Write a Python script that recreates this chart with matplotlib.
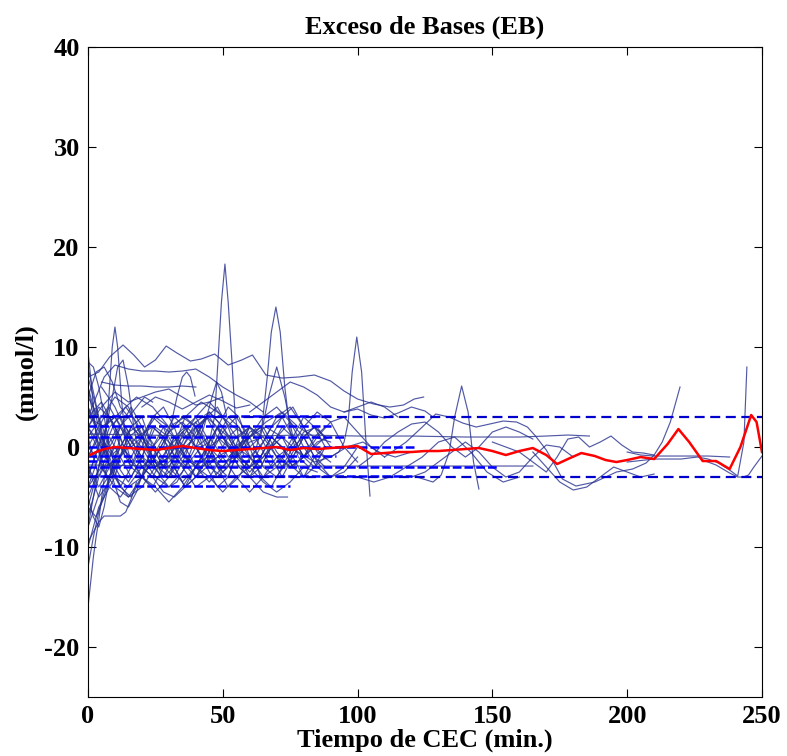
import matplotlib as mpl
mpl.use('Agg')
import matplotlib.pyplot as plt

# media (linea roja)
mean_t = [0, 3, 6, 10, 15, 20, 25, 30, 35, 40, 45, 50, 55, 60, 65, 70, 75, 80, 85, 90,
          95, 100, 105, 110, 115, 120, 125, 130, 135, 140, 145, 150, 155, 160, 165, 170,
          174, 178, 183, 188, 192, 196, 200, 205, 210, 215, 219, 223, 228, 233, 238, 242,
          246, 248, 250]
mean_eb = [-0.9, -0.5, -0.2, 0.0, -0.1, -0.2, -0.3, -0.1, 0.1, -0.1, -0.3, -0.4, -0.3, -0.2,
           -0.1, 0.0, -0.3, -0.1, -0.2, -0.1, 0.0, 0.1, -0.7, -0.6, -0.5, -0.5, -0.4, -0.4,
           -0.3, -0.2, -0.1, -0.4, -0.8, -0.4, -0.1, -0.8, -1.7, -1.2, -0.6, -0.9, -1.3, -1.5,
           -1.3, -1.0, -1.2, 0.3, 1.8, 0.5, -1.4, -1.4, -2.2, 0.0, 3.2, 2.5, -0.5]

# limites normales
lim_sup = 3
lim_inf = -3

# niveles por paciente (azul discontinuo) y hasta donde llegan
level_eb = [3.1, 2.1, 1.0, 0.0, -0.9, -1.4, -2.0, -2.9, -3.9]
level_end = [90, 90, 95, 122, 92, 80, 152, 120, 75]

# picos
peak_curves = [
    ([4, 6, 7.5, 9, 10, 11, 12.5, 14, 16], [-1, 0.5, 4, 10, 12, 10, 4.5, 0.5, -1.5]),
    ([6, 9, 11, 13, 15, 17, 19, 22], [1, 5, 8, 8.7, 6, 2, -1, -2]),
    ([43, 45, 47, 48.3, 49.5, 50.8, 52, 53.3, 54.5, 56, 58],
     [-1, 0.5, 3.1, 9, 14.5, 18.3, 14.5, 9, 3.5, 0.5, -1]),
    ([58, 62, 64.5, 66.5, 68, 69.7, 71.3, 73, 75, 78, 82],
     [-2, -0.5, 2, 7, 11.5, 14, 11.5, 6, 1.5, -1, -2]),
    ([60, 64, 67, 70, 73, 76, 80], [0, 1, 5, 8, 5, 1, -1]),
    ([90, 93, 95, 96.5, 98, 99.7, 101.5, 103, 104.6], [-1, -0.5, 0.5, 2.5, 7.5, 11, 7.5, 1, -4.9]),
    ([28, 31, 33, 35, 36.6, 38, 39.7], [0, 2.5, 5, 7, 7.5, 7, 5.1]),
    ([40, 43, 46, 47.7, 49.5, 51.5], [0, 2, 5, 6.5, 5.5, 3]),
    ([122, 128, 131, 134, 136, 138.6, 141, 143, 145], [-3, -3.5, -2.8, -0.5, 3, 6.1, 3.5, -1.5, -4.2]),
]

# curvas altas
upper_curves = [
    ([0, 4, 8, 13, 17, 21, 25, 29, 33, 38, 42, 47, 52, 57, 61, 66, 72, 78, 84, 90, 95, 100,
      106, 112, 117, 121, 124.5],
     [7, 7.5, 9, 10.2, 9.2, 8.0, 8.7, 10.1, 9.4, 8.6, 8.8, 9.3, 8.2, 8.7, 9.2, 7.2, 6.9, 7.0,
      7.2, 6.6, 5.6, 4.8, 4.3, 4.0, 4.2, 4.8, 5.0]),
    ([0, 3, 6, 10, 15, 20, 25, 30, 35, 40, 45, 50, 55, 60, 65],
     [3, 5, 7, 8.2, 7.8, 7.6, 7.6, 7.5, 7.6, 7.8, 7.0, 6.0, 5.2, 4.5, 3.5]),
    ([5, 10, 15, 20, 25, 30, 35, 40], [6.5, 6.2, 6.1, 6.1, 6.0, 6.0, 6.1, 6.0]),
    ([0, 5, 10, 15, 20, 25, 30, 35, 40, 45, 50],
     [2, 4, 5.5, 4.5, 5, 5.5, 5.8, 5.0, 4.2, 4.5, 5.0]),
    ([60, 65, 70, 75, 80, 85, 90, 95, 100, 105, 110, 115],
     [3.5, 4.5, 5.5, 6.5, 6.0, 5.2, 4.0, 3.5, 4.0, 4.5, 4.0, 3.0]),
    ([0, 1, 2, 3, 5, 7], [9.5, 7, 4, 1, -2, -3]),
    ([0, 2, 4, 6, 8, 10, 12], [8.5, 8, 6, 3, 0, -2, -3]),
    ([0, 3, 6, 9, 12, 15, 18, 21, 24], [5, 7.5, 8, 6.5, 4, 3, 4, 5, 4.5]),
    ([20, 25, 30, 35, 40, 45, 50, 55, 60], [4, 5, 4.5, 3.8, 4.5, 5.2, 4.6, 3.9, 4.2]),
]

# curvas bajas al inicio
early_curves = [
    ([0, 1, 2, 3, 4, 5, 6, 8, 10], [-16, -13.5, -11, -9, -7.3, -5.2, -3.2, -1, 0]),
    ([0, 2, 4, 6, 8, 10], [-12, -9, -6.5, -4.5, -3, -2]),
    ([0, 2, 4, 6, 9, 12, 14, 16, 18], [-9.5, -8.5, -7.5, -6.9, -6.9, -6.9, -6.5, -5.2, -3.5]),
    ([0, 4, 8, 12, 16, 20, 24, 28, 32, 36, 40], [-10, -6, -4, -5, -3.5, -2, -3, -4.5, -5, -4, -3]),
    ([0, 3, 6, 9, 12, 15, 18, 21, 24, 27, 30], [7, 4, 0, -3, -5.5, -6, -4.5, -2, 0, 1, 0]),
    ([0, 3, 6, 9, 12, 15, 18, 21, 24, 27, 30, 33, 36, 39, 42, 45],
     [-6, -7, -5, -2, 0, 1.5, 2, 0.5, -1.5, -3, -4, -3.5, -2, -1, 0, 0.5]),
    ([0, 2, 4, 6, 8, 10, 12, 14], [-8, -5, -2, 1, 3, 2, 0, -1]),
    ([0, 2, 4, 6, 8, 10, 12], [6, 3, 0, -2, -4, -3, -1]),
    ([0, 2, 4, 6, 8, 10, 12, 14, 16], [-5, -7, -8, -6, -3, -1, 1, 2, 1]),
]

# nube central
t5_90 = [0, 5, 10, 15, 20, 25, 30, 35, 40, 45, 50, 55, 60, 65, 70, 75, 80, 85, 90]
t5_100 = [0, 5, 10, 15, 20, 25, 30, 35, 40, 45, 50, 55, 60, 65, 70, 75, 80, 85, 90, 95, 100]
t4_88 = [0, 4, 8, 12, 16, 20, 24, 28, 32, 36, 40, 44, 48, 52, 56, 60, 64, 68, 72, 76, 80, 84, 88]
t4_60 = [0, 4, 8, 12, 16, 20, 24, 28, 32, 36, 40, 44, 48, 52, 56, 60]
dense_curves = [
    (t5_90, [2, -1, 1.5, 3, 0.5, -2, -1, 1.5, 2.5, 0, -2.5, -1, 1.5, 2, -0.5, -2, -1, 0.5, 1]),
    (t5_90, [-3, 1, -1.5, -3.5, -1, 2, 1, -1.5, -3, -1, 1.5, 3, 1, -2, -3, -1, 1.5, 2, 0]),
    ([0, 4, 8, 12, 16, 20, 25, 30, 35, 40, 45, 50, 55, 60],
     [5, 3, -2, -4, -2, 1, 3, 2, -0.5, -2, -3.5, -2, 0, 1]),
    ([0, 3, 6, 10, 14, 18, 22, 26, 30, 35, 40, 45, 50, 55, 60, 65, 70, 75],
     [-5, -3, 0, 2.5, 4, 2.5, 0, -2, -3, -1, 1.5, 3.5, 2, -0.5, -2, -1, 0.5, -1]),
    (t5_100, [3, 4.5, 2, -1, -3, -4.5, -3, 0, 2, 3, 1, -1, -2.5, -1, 1, 2.5, 1, -1.5, -3, -2, 0]),
    ([0, 5, 10, 15, 20, 25, 30, 35, 40, 45, 50, 55, 60, 65, 70, 74],
     [-8, -4, -2, 1, 2, 0, -2, -3.5, -2, 0, 1, -0.5, -3, -4.5, -5, -5]),
    (t5_90, [1, 3, 5, 4, 1, -1.5, -2, 0, 2.5, 3.5, 2, 0, -1, 0.5, 3, 4, 2, -0.5, -1.5]),
    (t4_60, [-2, -5, -3.5, -1, 1, 0, -2, -3, -1, 1, 2, 0, -2, -4, -3, -1]),
    ([5, 10, 15, 20, 25, 30, 35, 40, 45, 50, 55, 60, 65, 70, 75, 80, 85, 90, 95, 100],
     [6, 4, 1, -1, -2, -1, 1, 3, 4.5, 3, 1, -1, -3, -2, 0, 2, 3.5, 2.5, 0, -1.5]),
    ([0, 6, 12, 18, 24, 30, 36, 42, 48, 54, 60, 66, 72, 78, 84, 90, 96, 102, 108, 114, 120],
     [0, -2, -1, 1, 2, 0.5, -1, -2, -1, 0, 1, 2, 1, -0.5, -1.5, -1, 0, 0.5, -0.5, -1, -0.5]),
    ([0, 5, 10, 15, 20, 25, 30, 35, 40, 45, 50, 55, 60, 65, 70, 75, 80],
     [-1, 2, 3, 1, -1, -3, -4, -2.5, 0, 1, -1, -3, -4.5, -3, -1, 0, -1]),
    ([0, 5, 10, 15, 20, 25, 30, 35, 40, 45, 50], [4, 1, -3, -5, -4, -2, 0, 1.5, 0, -2, -3]),
    ([20, 25, 30, 35, 40, 45, 50, 55, 60, 65, 70, 75, 80, 85, 90, 95, 100],
     [-3, -1, 1.5, 2.5, 1, -1, -2, -0.5, 1, 3, 4, 2.5, 0, -2, -3, -2.5, -1]),
    ([0, 5, 10, 15, 20, 25, 30, 35, 40, 45, 50, 55, 60, 65],
     [2, 0, -3, -4, -3, -1, 1.5, 3, 2, 0, -1.5, -1, 0.5, 1]),
    ([30, 35, 40, 45, 50, 55, 60, 65, 70, 75, 80, 85, 90, 95, 100, 105, 110],
     [0, -2, -4, -3, -1, 1, 2, 1, -1, -2, -1, 1, 2.5, 3, 1.5, 0, -1]),
    ([0, 6, 12, 18, 24, 30, 36, 42, 48, 54, 60, 66, 72, 78, 84, 90],
     [3, 2, 3.5, 5, 4, 2, 3, 4.5, 3.5, 2, 1, 2.5, 3.5, 2, 1, 0.5]),
    ([0, 5, 10, 15, 20, 25, 30, 35, 40, 45, 50, 55, 60, 65, 70, 75, 80, 85],
     [-4, -2, -4, -5, -3, -4, -5.5, -4, -2, -3, -4.5, -3, -2, -3.5, -4.5, -3.5, -2, -2.5]),
    ([0, 20, 40, 60, 80, 100, 120, 140, 160, 170, 178, 186],
     [1.3, 1.2, 1.1, 1.1, 1.2, 1.1, 1.1, 1.0, 1.0, 1.1, 1.2, 1.1]),
    ([0, 30, 60, 90, 120, 150, 165], [-1.8, -1.9, -1.9, -1.9, -1.9, -1.9, -1.9]),
    (t4_88, [-3, 0, 3, 1, -2, -3, 0, 2, 1, -1, -3, -2, 1, 3, 2, -1, -2, 0, 2, 1, -1, -2, 0]),
    (t4_88, [4, 1, -2, -1, 2, 3, 0, -2, -1, 2, 3, 1, -2, -3, 0, 2, 1, -1, -3, -1, 1, 2, 1]),
    (t4_88, [-6, -2, 1, -1, -3, -1, 2, 1, -2, -4, -2, 0, 2, 0, -2, -3, -1, 1, 0, -2, -3, -1, 0]),
    (t4_88, [1, -3, -1, 2, 4, 2, -1, -2, 0, 3, 2, -1, -3, -2, 1, 2, 0, -2, -1, 1, 3, 2, 0]),
    (t4_88, [6, 2, -1, 0, 2, 1, -1, -3, -2, 0, 1, 3, 4, 2, -1, -2, 0, 2, 3, 1, -1, 0, 1]),
    (t4_88, [-2, -4, -2, 0, -1, -3, -4, -2, 1, 2, 0, -2, -1, 1, 2, 0, -3, -4, -2, 0, 1, -1, -2]),
    (t4_88, [2, 4, 3, 0, -2, 0, 3, 4, 2, -1, -2, 0, 2, 1, -1, -2, -1, 1, 3, 4, 2, 0, -1]),
    (t4_88, [-1, 1, -1, -4, -5, -3, -1, 0, -2, -4, -3, -1, 1, 0, -2, -3, -2, 0, 1, -1, -3, -2, -1]),
    (t4_88, [0, 2, 4, 2, 0, 1, 3, 2, -1, -2, 1, 3, 2, 0, -1, 1, 2, 0, -2, -1, 1, 2, 1]),
    (t4_88, [-4, -1, 2, 3, 1, -2, -3, -1, 1, 0, -2, -1, 2, 4, 3, 0, -1, 1, 0, -2, -1, 1, 2]),
    (t4_60, [8, 3, 0, -2, -1, 1, 0, -2, -3, -1, 2, 3, 1, -1, 0, 2]),
    (t4_60, [-7, -3, 0, 2, 0, -2, -1, 1, 3, 2, 0, -2, -4, -3, 0, 1]),
]

# curvas tardias
late_curves = [
    ([95, 100, 105, 110, 115, 120, 125, 128], [3.5, 3.8, 3.2, 2.9, 3.4, 4.0, 3.6, 3.0]),
    ([110, 118, 124, 129, 134, 139, 144, 149, 154, 159, 163, 166, 170, 173, 176, 181, 188,
      196, 202, 207, 210, 213, 216, 219.6],
     [-1, 0.5, 2.0, 3.3, 3.0, 2.4, 2.0, 2.3, 2.6, 2.5, 2.0, 1.1, -0.3, -1.7, -3.2, -3.9, -3.5,
      -2.5, -2.2, -1.6, -0.8, 0.5, 2.5, 6.0]),
    ([100, 105, 110, 115, 120, 125, 130, 135, 140, 145, 150, 155, 160, 165],
     [-2, -1, 0.5, 1.5, 2.3, 2.5, 1.5, 0.0, -1.0, 0.0, 1.5, 2.0, 1.5, 0.8]),
    ([120, 125, 130, 135, 140, 145, 150, 155, 160, 165, 170, 175, 180],
     [-3, -2.5, -1.5, -0.5, 0.5, -0.5, -2, -3, -2.5, -1.0, 0.2, 0.0, -1.0]),
    ([150, 155, 160, 165, 170, 174, 178, 182, 186, 190, 194, 198, 202, 206, 210],
     [0.5, 0.0, -0.5, -1.5, -2.5, -1.0, 0.8, 1.0, 0.0, 0.5, 1.1, 0.2, -0.5, -0.6, -0.8]),
    ([165, 170, 175, 180, 185, 190, 195, 200, 205, 210],
     [-0.5, -2.0, -3.5, -4.3, -4.0, -3.0, -2.0, -2.5, -3.0, -2.7]),
    ([200, 205, 210, 220, 230, 238], [-0.5, -0.8, -0.9, -0.9, -0.9, -1.0]),
    ([228, 233, 238, 241, 243, 245, 247, 250], [-1.3, -1.8, -2.6, -3.0, -3.0, -2.8, -2.0, -0.9]),
    ([200, 210, 220, 226, 230, 234, 238, 241, 243.3, 244.4],
     [-1.5, -1.2, -1.2, -1.0, -1.2, -1.6, -2.3, -2.9, 0.5, 8.0]),
    ([100, 106, 112, 118, 124, 130, 136, 142, 148, 154, 160],
     [-3, -3.5, -3, -2, -1, 0.5, 1, -0.5, -2.5, -3.5, -3]),
]

plt.rcParams['font.family'] = 'Liberation Serif'
plt.rcParams['font.weight'] = 'bold'
plt.rcParams['axes.unicode_minus'] = False

fig = plt.figure(figsize=(7.87, 7.56), dpi=100)
ax = fig.add_axes([0.1118, 0.078, 0.8564, 0.8598])

thin = dict(color='#26308f', lw=0.85, alpha=0.8)
for group in [upper_curves, early_curves, dense_curves, peak_curves, late_curves]:
    for t, v in group:
        ax.plot(t, v, **thin)

for lev, end in zip(level_eb, level_end):
    ax.plot([0, end], [lev, lev], color='#0000ff', lw=1.8, dashes=(3.5, 1.2))

ax.plot([0, 250], [lim_sup, lim_sup], color='#0000cc', lw=1.6, dashes=(4.5, 2.5))
ax.plot([0, 250], [lim_inf, lim_inf], color='#0000cc', lw=1.6, dashes=(4.5, 2.5))
ax.plot(mean_t, mean_eb, color='#ff0000', lw=1.8)

ax.set_xlim(0, 250)
ax.set_ylim(-25, 40)
ax.set_xticks([0, 50, 100, 150, 200, 250])
ax.set_yticks([-20, -10, 0, 10, 20, 30, 40])
ax.tick_params(direction='in', length=6, width=0.8, top=True, right=True,
               labelsize=19, pad=6)
for s in ax.spines.values():
    s.set_linewidth(0.8)

ax.set_title('Exceso de Bases (EB)', fontsize=19, fontweight='bold', pad=10)
ax.set_xlabel('Tiempo de CEC (min.)', fontsize=19, fontweight='bold', labelpad=0)
ax.set_ylabel('(mmol/l)', fontsize=19, fontweight='bold')
ax.yaxis.set_label_coords(-0.075, 0.5)

fig.savefig('out.png', dpi=100)
